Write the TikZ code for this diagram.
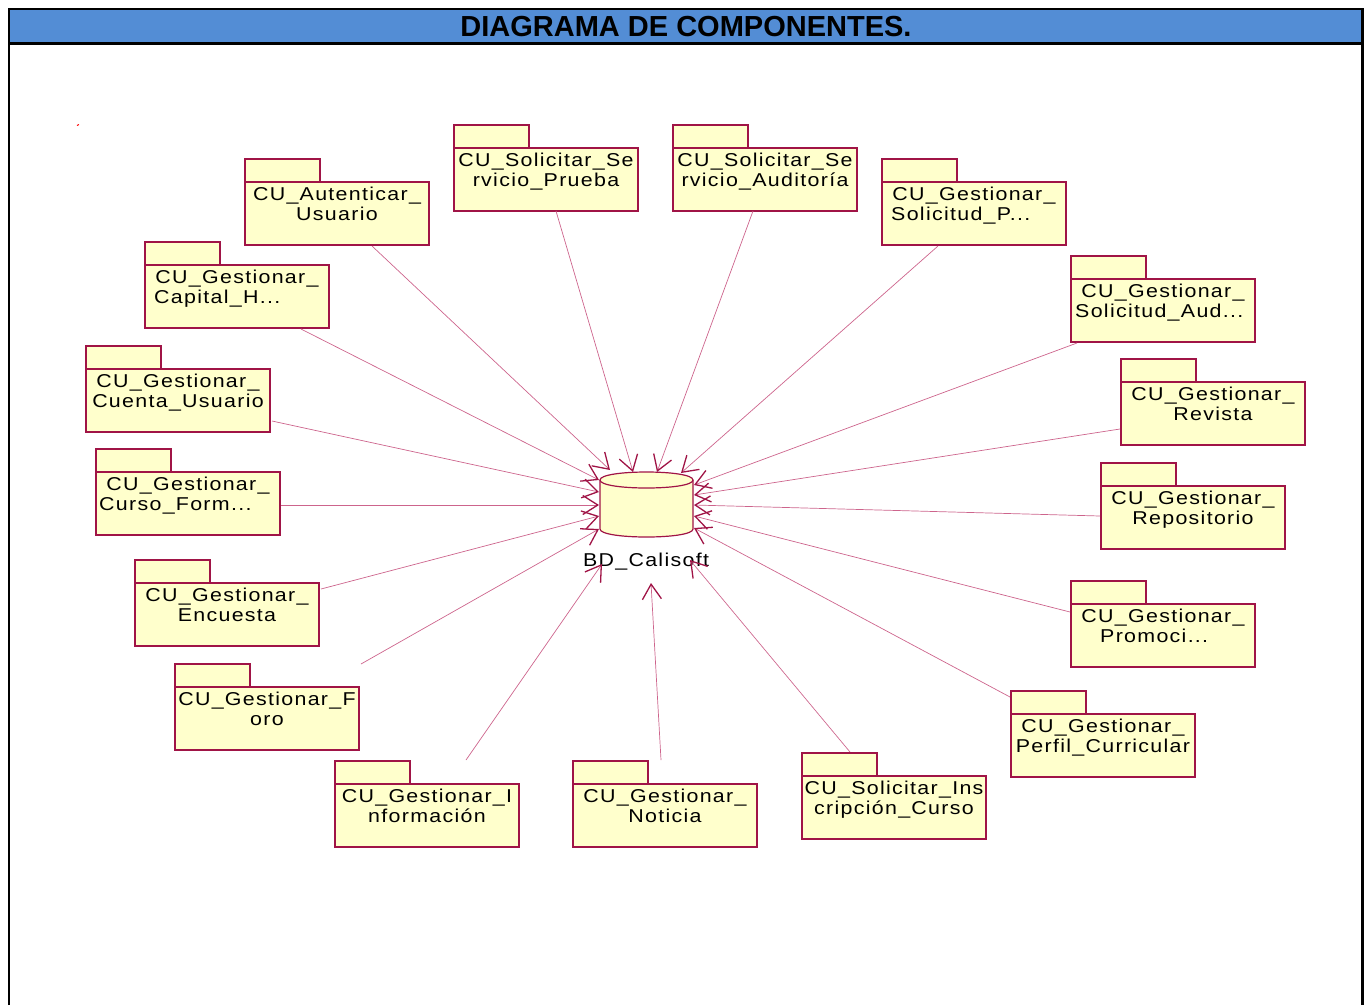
\documentclass[tikz,border=0pt]{standalone}
\usepackage{fontspec}
\setmainfont{Liberation Sans}
\newfontfamily\pkgfont[FakeStretch=1.15,LetterSpace=7]{Liberation Sans}
\usetikzlibrary{arrows.meta}
\definecolor{pkgfill}{RGB}{255,255,204}
\definecolor{pkgline}{RGB}{160,20,70}
\definecolor{conline}{RGB}{205,100,140}
\definecolor{titlebg}{RGB}{83,141,213}
\newcommand\pkgbox[3]{%
  \node[pkgshape,minimum width=75pt,minimum height=23pt,anchor=north west] (#1tab) at (#2,#3) {};
  \node[pkgshape,minimum width=184pt,minimum height=63pt,anchor=north west] (#1) at (#2,#3+23) {};}
\newcommand\pkgC[5]{% centered lines
  \pkgbox{#1}{#2}{#3}
  \node[lbl] (#1a) at (#2+92,#3+41) {#4};
  \node[lbl] (#1b) at (#2+92,#3+61) {#5};}
\newcommand\pkgL[6]{% second line left aligned at x=#6
  \pkgbox{#1}{#2}{#3}
  \node[lbl] (#1a) at (#2+92,#3+41) {#4};
  \node[lbl,anchor=base west] (#1b) at (#6,#3+61) {#5};}
\begin{document}
\begin{tikzpicture}[x=1pt,y=-1pt,
  pkgshape/.style={draw=pkgline,fill=pkgfill,line width=1.1pt,inner sep=0pt,outer sep=0pt},
  lbl/.style={font=\pkgfont\fontsize{18.6}{20}\selectfont,inner sep=0pt,anchor=base},
  conn/.style={draw=conline,line width=0.7pt,-{Straight Barb[length=15pt,width=19pt,line width=1.3pt,color=pkgline]}}]
\useasboundingbox (0,0) rectangle (1370,1005);
% frame and title
\fill[titlebg] (9,9) rectangle (1362.5,43.5);
\draw[line width=2.5pt] (9,1005) -- (9,9) -- (1362.5,9) -- (1362.5,1005);
\draw[line width=2.5pt] (9,43.5) -- (1362.5,43.5);
\node[font=\bfseries\fontsize{29}{30}\selectfont,anchor=base,inner sep=0pt] (title) at (686,36) {DIAGRAMA DE COMPONENTES.};
\draw[red,line width=1pt] (77,125.5) -- (79,124.5);
% packages
\pkgC{p1}{245}{159}{CU\_Autenticar\_}{Usuario}
\pkgC{p2}{454}{125}{CU\_Solicitar\_Se}{rvicio\_Prueba}
\pkgC{p3}{673}{125}{CU\_Solicitar\_Se}{rvicio\_Auditoría}
\pkgL{p4}{882}{159}{CU\_Gestionar\_}{Solicitud\_P...}{891}
\pkgL{p5}{1071}{256}{CU\_Gestionar\_}{Solicitud\_Aud...}{1075}
\pkgC{p6}{1121}{359}{CU\_Gestionar\_}{Revista}
\pkgC{p7}{1101}{463}{CU\_Gestionar\_}{Repositorio}
\pkgL{p8}{1071}{581}{CU\_Gestionar\_}{Promoci...}{1100}
\pkgC{p9}{1011}{691}{CU\_Gestionar\_}{Perfil\_Curricular}
\pkgC{p10}{802}{753}{CU\_Solicitar\_Ins}{cripción\_Curso}
\pkgC{p11}{573}{761}{CU\_Gestionar\_}{Noticia}
\pkgC{p12}{335}{761}{CU\_Gestionar\_I}{nformación}
\pkgC{p13}{175}{664}{CU\_Gestionar\_F}{oro}
\pkgC{p14}{135}{560}{CU\_Gestionar\_}{Encuesta}
\pkgL{p15}{96}{449}{CU\_Gestionar\_}{Curso\_Form...}{99}
\pkgC{p16}{86}{346}{CU\_Gestionar\_}{Cuenta\_Usuario}
\pkgL{p17}{145}{242}{CU\_Gestionar\_}{Capital\_H...}{154}
% database
\filldraw[fill=pkgfill,draw=pkgline,line width=1.2pt]
  (600,480) -- (600,529) .. controls (600,539.67) and (693,539.67) .. (693,529)
  -- (693,480) .. controls (693,469.33) and (600,469.33) .. (600,480) -- cycle;
\draw[pkgline,line width=1.2pt] (600,480) .. controls (600,490.67) and (693,490.67) .. (693,480);
\coordinate (db) at (646.5,505);
\node[lbl] (dblabel) at (646,566.5) {BD\_Calisoft};
% connector end points
\coordinate (s1) at (372,246);   \coordinate (e1) at (610,470);
\coordinate (s2) at (556,211);   \coordinate (e2) at (633,472);
\coordinate (s3) at (753,211);   \coordinate (e3) at (657,472);
\coordinate (s4) at (938,246);   \coordinate (e4) at (681,473);
\coordinate (s5) at (1077,343);  \coordinate (e5) at (694,485);
\coordinate (s6) at (1120,429);  \coordinate (e6) at (694,495);
\coordinate (s7) at (1100,516);  \coordinate (e7) at (694,505);
\coordinate (s8) at (1070,612);  \coordinate (e8) at (694,516);
\coordinate (s9) at (1010,697);  \coordinate (e9) at (694,528);
\coordinate (s10) at (850,752);  \coordinate (e10) at (690,560);
\coordinate (s11) at (661,760);  \coordinate (e11) at (651,583);
\coordinate (s12) at (466,760);  \coordinate (e12) at (602,564);
\coordinate (s13) at (361,664);  \coordinate (e13) at (599,529);
\coordinate (s14) at (321,589);  \coordinate (e14) at (599,516);
\coordinate (s15) at (281,505);  \coordinate (e15) at (599,505);
\coordinate (s16) at (272,421);  \coordinate (e16) at (599,492);
\coordinate (s17) at (301,329);  \coordinate (e17) at (599,480);
\foreach \i in {1,...,17} { \draw[conn] (s\i) -- (e\i); }
\end{tikzpicture}
\end{document}
